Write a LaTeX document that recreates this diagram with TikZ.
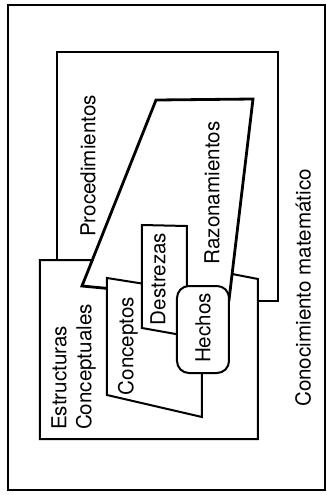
\documentclass[tikz,border=0pt]{standalone}
\usepackage{fontspec}
\setmainfont{TeX Gyre Heros}
\begin{document}
\begin{tikzpicture}[x=0.5pt,y=-0.5pt]
\tikzset{region/.style={draw, fill=white, line width=#1, line join=miter},
  region/.default=1pt,
  region text/.style={rotate=90, inner sep=0pt, align=left,
    font=\fontsize{10.3}{12.5}\selectfont}
}
\useasboundingbox (0,0) rectangle (327,495);
\draw[region=0.7pt] (8,5) rectangle (325,490);
\draw[region] (57,52) rectangle (278,301);
\draw[region] (40,260) -- (160,260) -- (258,279) -- (258,439) -- (40,439) -- cycle;
\draw[region=1.4pt] (156,100) -- (253,99) -- (229,300) -- (82,286) -- cycle;
\draw[region] (107,278) -- (202,293) -- (202,417) -- (107,395) -- cycle;
\draw[region] (142,225) -- (187,226) -- (187,336) -- (142,328) -- cycle;
\draw[region, rounded corners=6] (177,286) rectangle (229,373);
\node[region text] (conocimiento) at (303,288) {Conocimiento matemático};
\node[region text] (procedimientos) at (88,166) {Procedimientos};
\node[region text] (razonamientos) at (212,193) {Razonamientos};
\node[region text] (estructuras) at (73.5,367) {Estructuras\\Conceptuales};
\node[region text] (conceptos) at (128,346) {Conceptos};
\node[region text] (destrezas) at (158,279) {Destrezas};
\node[region text] (hechos) at (203,328) {Hechos};
\end{tikzpicture}
\end{document}
